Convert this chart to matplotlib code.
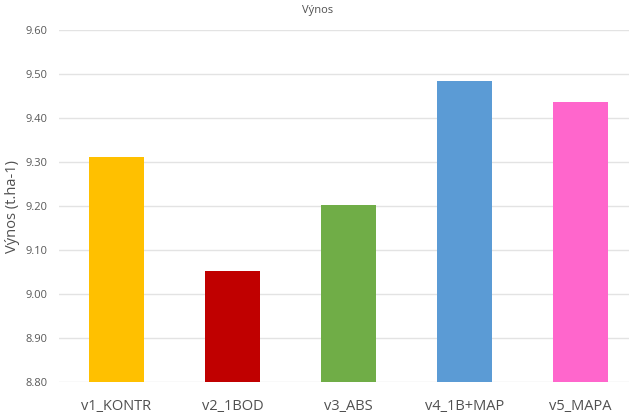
import matplotlib
matplotlib.use('Agg')
from matplotlib import pyplot as plt

categories = ['v1_KONTR', 'v2_1BOD', 'v3_ABS', 'v4_1B+MAP', 'v5_MAPA']
values = [9.312, 9.052, 9.202, 9.484, 9.437]
colors = ['#FFC000', '#C00000', '#70AD47', '#5B9BD5', '#FF66CC']
yticks = [8.80, 8.90, 9.00, 9.10, 9.20, 9.30, 9.40, 9.50, 9.60]

plt.rcParams['font.family'] = ['Open Sans', 'DejaVu Sans']

fig = plt.figure(figsize=(6.29, 4.19), dpi=100)
# plotting area runs slightly past the right edge, as in the source
ax = fig.add_axes([58.5 / 629, 37 / 419, 580 / 629, 352 / 419])

x = range(len(categories))
ax.bar(x, [v - 8.80 for v in values], bottom=8.80, width=0.474, color=colors, zorder=3)

ax.set_ylim(8.80, 9.60)
ax.set_xlim(-0.5, 4.5)
ax.set_yticks(yticks)
ax.set_yticklabels(['%.2f' % t for t in yticks], fontsize=8, color='#595959')
ax.set_xticks(list(x))
ax.set_xticklabels(categories, fontsize=10.5, color='#505050')
ax.tick_params(axis='both', length=0)
ax.tick_params(axis='y', pad=8)
ax.tick_params(axis='x', pad=12)
ax.grid(axis='y', color='#E3E3E3', linewidth=1, zorder=0)
for s in ax.spines.values():
    s.set_visible(False)

fig.text(13 / 629, 1 - 206 / 419, 'Výnos (t.ha-1)', fontsize=10.5, color='#505050',
         rotation=90, ha='center', va='center')
fig.text(318 / 629, 1 - 11 / 419, 'Výnos', fontsize=8, color='#505050', ha='center', va='center')

fig.savefig('out.png', dpi=100)
